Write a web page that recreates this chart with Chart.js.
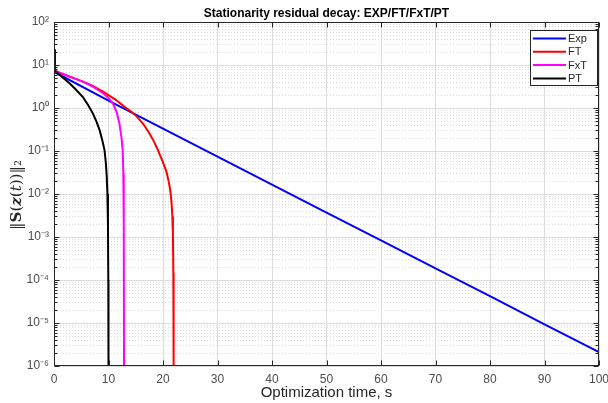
<!DOCTYPE html>
<html>
<head>
<meta charset="utf-8">
<script src="https://cdn.jsdelivr.net/npm/chart.js@4"></script>
<style>
  html, body { margin: 0; padding: 0; background: #fff; }
  #wrap { width: 608px; height: 403px; }
</style>
</head>
<body>
<div id="wrap"><canvas id="chart"></canvas></div>
<script>
var docById = function (id) { return document.getElementById(id); };

// values (time in s, residual norm)
const seriesNames = ["Exp", "FT", "FxT", "PT"];
const seriesColors = ["#0000ff", "#ff0000", "#ff00ff", "#000000"];

const expT = [0, 0.15, 10, 20, 30, 40, 50, 60, 70, 80, 90, 100];
const expV = [23, 6.8, 1.48, 0.33, 0.074, 0.0166, 0.0037, 8.3e-4, 1.86e-4, 4.2e-5, 9.3e-6, 2.1e-6];

const ftT = [0, 0.15, 1, 3, 5.3, 7, 9, 11.4, 13, 14.2, 15.2, 16.4, 17.5, 18.3, 19, 19.6, 20.1, 20.6, 21.0, 21.25,
  21.45, 21.6, 21.72, 21.82, 21.9, 21.95];
const ftV = [23, 7.4, 6.6, 5.3, 4.1, 3.3, 2.4, 1.53, 1.05, 0.82, 0.63, 0.42, 0.26, 0.17, 0.11, 0.072, 0.05, 0.034, 0.021, 0.014,
  0.0092, 0.0055, 0.003, 0.0011, 1.5e-4, 1e-6];

const fxtT = [0, 0.15, 1, 3, 5.3, 7, 9, 10, 10.8, 11.5, 12, 12.4, 12.6, 12.72, 12.8, 12.85];
const fxtV = [23, 7.4, 6.6, 5.3, 4.1, 3.2, 2.2, 1.7, 1.29, 0.8, 0.44, 0.2, 0.105, 0.03, 2e-3, 1e-6];

const ptT = [0, 0.15, 1, 2.85, 4, 5.3, 6.2, 7.1, 7.8, 8.35, 8.85, 9.27, 9.5, 9.68, 9.8, 9.9, 9.96, 10.0];
const ptV = [23, 7.4, 5.9, 3.75, 2.7, 1.8, 1.2, 0.76, 0.48, 0.31, 0.18, 0.105, 0.055, 0.025, 0.01, 0.002, 1e-4, 1e-6];

const xTicks = [0, 10, 20, 30, 40, 50, 60, 70, 80, 90, 100];
const yExponents = [-6, -5, -4, -3, -2, -1, 0, 1, 2];

const titleText = "Stationarity residual decay: EXP/FT/FxT/PT";
const xTitle = "Optimization time, s";
// y title pieces: [text, font style]
const yTitleParts = [
  ["\u2016", ""], ["S", "bold "], ["(", ""], ["z", "italic bold "], ["(", ""],
  ["t", "italic "], ["))", ""], ["\u2016", ""], ["\u2082", ""]
];

const seriesT = [expT, ftT, fxtT, ptT];
const seriesV = [expV, ftV, fxtV, ptV];

const supMap = { "-": "\u207b", "0": "\u2070", "1": "\u00b9", "2": "\u00b2", "3": "\u00b3",
  "4": "\u2074", "5": "\u2075", "6": "\u2076", "7": "\u2077", "8": "\u2078", "9": "\u2079" };
function sup(n) { return String(n).split("").map(c => supMap[c]).join(""); }

const datasets = seriesNames.map((name, i) => ({
  label: name,
  data: seriesT[i].map((t, j) => ({ x: t, y: seriesV[i][j] })),
  borderColor: seriesColors[i],
  backgroundColor: seriesColors[i],
  borderWidth: 2,
  pointRadius: 0,
  showLine: true,
  tension: 0,
  order: seriesNames.length - i
}));

const axisColor = "#262626";

const framePlugin = {
  id: "frame",
  beforeDatasetsDraw(chart) {
    const ctx = chart.ctx, a = chart.chartArea, ys = chart.scales.y;
    ctx.save();
    ctx.strokeStyle = "#cfcfcf";
    ctx.lineWidth = 0.7;
    ctx.setLineDash([1, 2]);
    for (let k = -6; k < 2; k++) {
      for (let m = 2; m < 10; m++) {
        const y = Math.round(ys.getPixelForValue(m * Math.pow(10, k))) + 0.5;
        ctx.beginPath();
        ctx.moveTo(a.left, y);
        ctx.lineTo(a.right, y);
        ctx.stroke();
      }
    }
    ctx.restore();
  },
  afterDraw(chart) {
    const ctx = chart.ctx, a = chart.chartArea, xs = chart.scales.x, ys = chart.scales.y;
    ctx.save();
    // box + inside ticks
    ctx.strokeStyle = axisColor;
    ctx.lineWidth = 1;
    ctx.setLineDash([]);
    const L = Math.round(a.left) + 0.5, R = Math.round(a.right) - 0.5;
    const T = Math.round(a.top) + 0.5, B = Math.round(a.bottom) - 0.5;
    ctx.strokeRect(L, T, R - L, B - T);
    ctx.beginPath();
    xTicks.forEach(v => {
      const x = Math.round(xs.getPixelForValue(v)) + 0.5;
      ctx.moveTo(x, B); ctx.lineTo(x, B - 5);
      ctx.moveTo(x, T); ctx.lineTo(x, T + 5);
    });
    for (let k = -6; k <= 2; k++) {
      const y = Math.round(ys.getPixelForValue(Math.pow(10, k))) + 0.5;
      ctx.moveTo(L, y); ctx.lineTo(L + 5, y);
      ctx.moveTo(R, y); ctx.lineTo(R - 5, y);
      if (k < 2) {
        for (let m = 2; m < 10; m++) {
          const ym = Math.round(ys.getPixelForValue(m * Math.pow(10, k))) + 0.5;
          ctx.moveTo(L, ym); ctx.lineTo(L + 3, ym);
          ctx.moveTo(R, ym); ctx.lineTo(R - 3, ym);
        }
      }
    }
    ctx.stroke();

    // legend
    const lx = 530.5, ly = 30.5, lw = 67, lh = 55;
    ctx.fillStyle = "#fff";
    ctx.fillRect(lx, ly, lw, lh);
    ctx.strokeStyle = axisColor;
    ctx.strokeRect(lx, ly, lw, lh);
    ctx.font = "11px 'Liberation Sans', Arial, sans-serif";
    ctx.textBaseline = "middle";
    ctx.textAlign = "left";
    chart.data.datasets.forEach((ds, i) => {
      const y = 38.5 + i * 13.3;
      ctx.strokeStyle = ds.borderColor;
      ctx.lineWidth = 2;
      ctx.beginPath();
      ctx.moveTo(533, y); ctx.lineTo(566, y);
      ctx.stroke();
      ctx.fillStyle = axisColor;
      ctx.fillText(ds.label, 568, y + 0.5);
    });

    // titles
    const cx = (a.left + a.right) / 2;
    ctx.fillStyle = "#000";
    ctx.textAlign = "center";
    ctx.font = "bold 12px 'Liberation Sans', Arial, sans-serif";
    ctx.fillText(titleText, cx, 14);
    ctx.fillStyle = axisColor;
    ctx.font = "15px 'Liberation Sans', Arial, sans-serif";
    ctx.fillText(xTitle, cx, 393);

    // y title, piece by piece
    ctx.translate(17, 195);
    ctx.rotate(-Math.PI / 2);
    ctx.textAlign = "left";
    const fam = "15px 'DejaVu Serif', 'Liberation Serif', serif";
    let total = 0;
    yTitleParts.forEach(p => { ctx.font = p[1] + fam; total += ctx.measureText(p[0]).width; });
    let px = -total / 2;
    yTitleParts.forEach(p => {
      ctx.font = p[1] + fam;
      ctx.fillText(p[0], px, 0);
      px += ctx.measureText(p[0]).width;
    });
    ctx.restore();
  }
};

new Chart(docById("chart").getContext("2d"), {
  type: "scatter",
  data: { datasets: datasets },
  options: {
    responsive: true,
    maintainAspectRatio: false,
    animation: false,
    layout: { padding: { top: 22, right: 9, left: 0, bottom: 0 } },
    scales: {
      x: {
        type: "linear",
        min: 0,
        max: 100,
        afterBuildTicks: s => { s.ticks = xTicks.map(v => ({ value: v })); },
        afterFit: s => { s.height = 37; s.paddingLeft = 0; s.paddingRight = 0; },
        grid: { color: "#dcdcdc", drawTicks: false },
        border: { display: false },
        ticks: {
          padding: 6,
          color: "#4d4d4d",
          font: { family: "'Liberation Sans', Arial, sans-serif", size: 12 },
          maxRotation: 0
        }
      },
      y: {
        type: "logarithmic",
        min: 1e-6,
        max: 100,
        afterBuildTicks: s => { s.ticks = yExponents.map(e => ({ value: Math.pow(10, e) })); },
        afterFit: s => { s.width = 54; s.paddingTop = 0; s.paddingBottom = 0; },
        grid: { color: "#dcdcdc", drawTicks: false },
        border: { display: false },
        ticks: {
          padding: 5,
          color: "#4d4d4d",
          font: { family: "'Liberation Sans', Arial, sans-serif", size: 12 },
          callback: v => "10" + sup(Math.round(Math.log10(v)))
        }
      }
    },
    plugins: {
      legend: { display: false },
      tooltip: { enabled: false },
      title: { display: false }
    }
  },
  plugins: [framePlugin]
});
</script>
</body>
</html>
